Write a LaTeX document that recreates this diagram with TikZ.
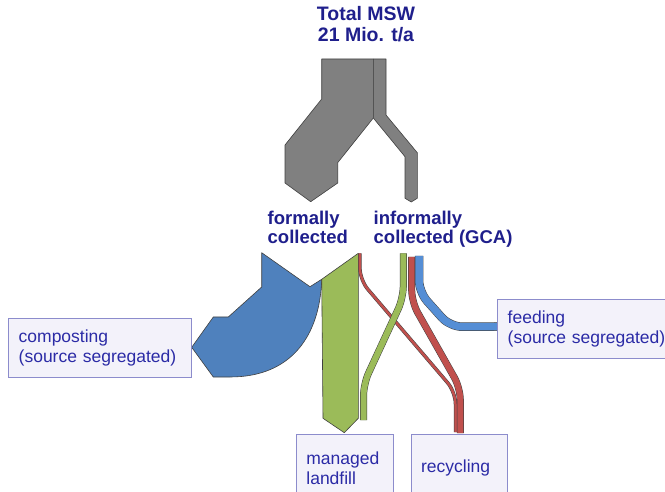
\documentclass[tikz,border=0pt]{standalone}
\usepackage{fontspec}
\setmainfont{Liberation Sans}
\definecolor{mswgray}{HTML}{808080}
\definecolor{compblue}{HTML}{4F81BD}
\definecolor{fillgreen}{HTML}{9BBB59}
\definecolor{recred}{HTML}{C0504D}
\definecolor{feedblue}{HTML}{558ED5}
\definecolor{labelnavy}{HTML}{1F1F8C}
\definecolor{boxline}{HTML}{8C8CCC}
\definecolor{boxfill}{HTML}{F3F2FA}
\definecolor{boxtext}{HTML}{2B2BA6}
\tikzset{
  flow/.style={draw=black!75,line width=0.6pt,line join=round},
  band/.style={draw=black!75,line width=0.5pt,double distance=#1,rounded corners=12pt},
  band/.default=6pt,
  lbl/.style={font=\bfseries\fontsize{18.5}{19.5}\selectfont,text=labelnavy,align=left,inner sep=0pt},
  outbox/.style={draw=boxline,fill=boxfill,line width=0.8pt,text=boxtext,
    font=\fontsize{17.5}{20}\selectfont,align=left,inner xsep=10pt,inner ysep=0pt,anchor=north west}
}
\begin{document}
\begin{tikzpicture}[x=1pt,y=-1pt]
\useasboundingbox (0,0) rectangle (665,492);

\coordinate (split) at (373.3,118);
\draw[flow,fill=mswgray] (321.7,59) -- (373.3,59) -- (split) -- (337.7,162.7) -- (337.7,183)
  -- (310.7,201.7) -- (285,183) -- (285,145) -- (321.7,99) -- cycle;
\draw[flow,fill=mswgray] (373.3,59) -- (386,59) -- (386,115) -- (417.3,152.7) -- (417.3,198.3)
  -- (411.2,202) -- (405,198.3) -- (405,156.7) -- (split) -- cycle;

\draw[flow,fill=compblue] (261.7,252.7) -- (310,286.7) -- (321.7,279.3)
  .. controls (320,335) and (292,377) .. (230,377) -- (213.3,377) -- (191.7,347.3)
  -- (213.3,317) -- (228.3,317) -- (261.7,287) -- cycle;
\draw[flow,fill=fillgreen] (321.7,279.3) -- (358.3,253.3) -- (358.3,418.3) -- (344.3,432.7)
  -- (323,418.3) -- cycle;

\draw[band=2.5pt,double=recred] (359.9,253.5) -- (359.9,280) -- (455.5,392) -- (455.5,432);
\draw[band=6pt,double=fillgreen] (403.3,253.5) -- (403.3,298) -- (363.5,384) -- (363.5,420);
\draw[band=6pt,double=recred] (411.7,257) -- (411.7,302) -- (460.3,388) -- (460.3,433);
\draw[band=7.5pt,double=feedblue] (419,256) -- (419,292) -- (450,326.7) -- (494,326.7);
\draw[flow,line width=0.5pt,fill=feedblue] (494,322.7) -- (497,322.7) -- (500,326.7)
  -- (497,330.7) -- (494,330.7);

\node[lbl,align=center,anchor=north,font=\bfseries\fontsize{19.5}{21.5}\selectfont] (total) at (366,6) {Total MSW\\21 Mio. t/a};
\node[lbl,anchor=north west] (formal) at (267.5,210.5) {formally\\collected};
\node[lbl,anchor=north west] (informal) at (373.5,210.5) {informally\\collected (GCA)};

\node[outbox,text width=162.4pt,minimum height=59pt] (compost) at (8.3,318.3) {composting\\(source segregated)};
\node[outbox,text width=170pt,minimum height=59pt] (feed) at (497.3,299.3) {feeding\\(source segregated)};
\node[outbox,text width=76.7pt,minimum height=68pt] (landfill) at (296,434) {managed\\landfill};
\node[outbox,text width=76.6pt,minimum height=68pt] (recycle) at (410.7,434) {recycling};
\end{tikzpicture}
\end{document}
